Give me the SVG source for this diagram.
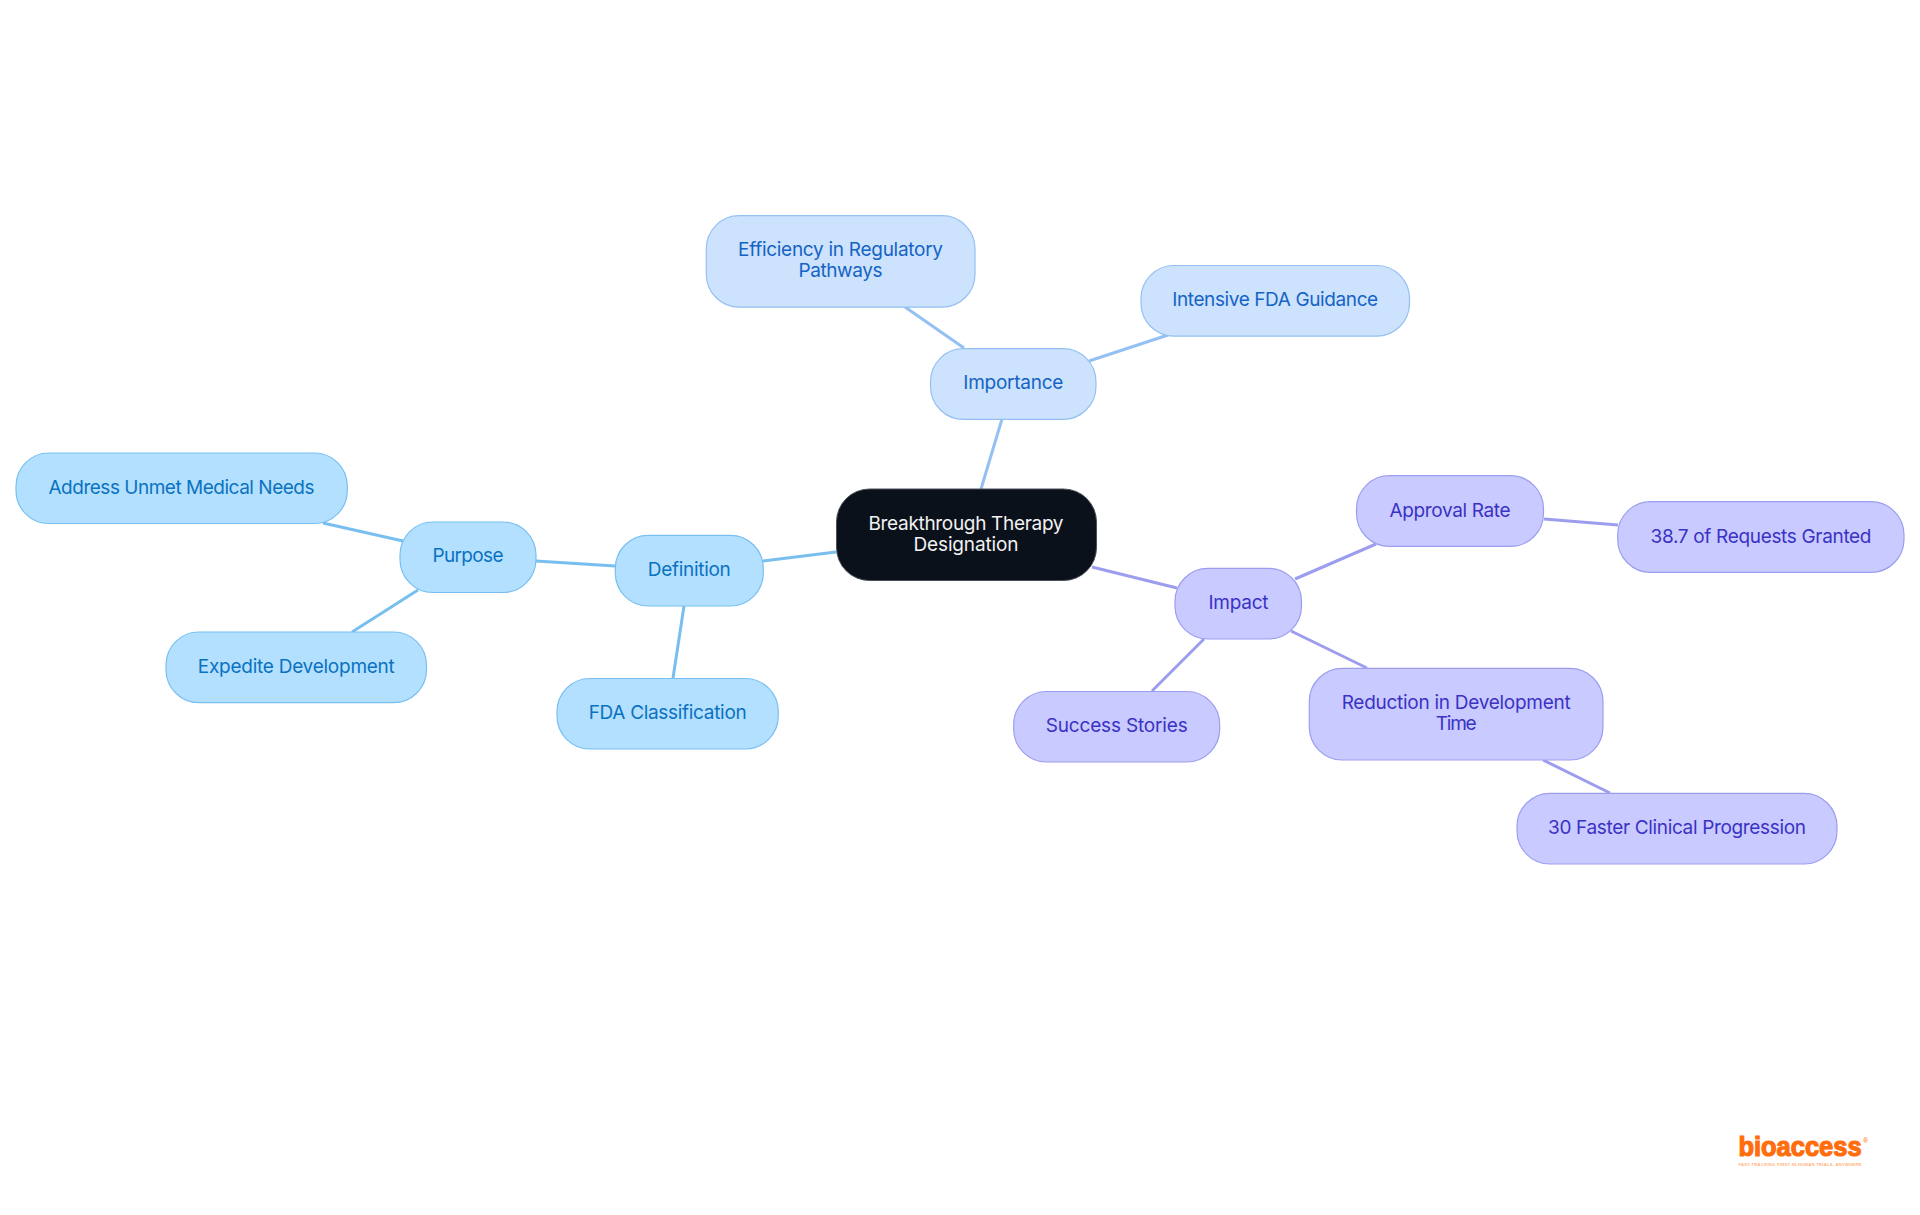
<svg xmlns="http://www.w3.org/2000/svg" width="1920" height="1215" viewBox="0 0 1920 1215">
<style>
text{font-family:"Inter","Noto Sans",sans-serif;font-size:19px;text-anchor:middle}
.l{fill:none;stroke-width:3}
.n{stroke-width:1.2}
.a .n{fill:#b3e0ff;stroke:#78bff0}.a text{fill:#0a72c0}
.b .n{fill:#cce2fd;stroke:#94c0f2}.b text{fill:#1563c4}
.c .n{fill:#c9caff;stroke:#9d9df0}.c text{fill:#3a32c4}
.la{stroke:#78bff0}.lb{stroke:#94c0f2}.lc{stroke:#9d9df0}
.k{font-family:"Liberation Sans",sans-serif;fill:#ff6d0d}
</style>
<rect width="1920" height="1215" fill="#fff"/>
<g id="connectors">
<path class="l la" d="M836 552L763 561M615 566L536 561M403 541L323 523M418 590L352 632M684 606L673 678"/>
<path class="l lb" d="M981 489L1002 419M964 348L905 307M1089 361L1168 335"/>
<path class="l lc" d="M1092 567L1177 588M1295 579L1376 544M1544 519L1618 525M1204 639L1152 691M1291 631L1367 668M1543 760L1610 793"/>
</g>
<g id="center"><rect x="836.500" y="489" width="260" height="91.500" rx="33" fill="#0b111b" stroke="#4a4f58" stroke-width="1"/><text x="966" y="530" fill="#f2f2f2" textLength="195">Breakthrough Therapy</text><text x="966" y="551" fill="#f2f2f2" textLength="105">Designation</text></g>
<g id="definition" class="a"><rect class="n" x="615.300" y="535.300" width="148" height="70.700" rx="33"/><text x="689.300" y="576" textLength="83">Definition</text></g>
<g id="purpose" class="a"><rect class="n" x="400" y="522" width="136" height="70.500" rx="33"/><text x="468" y="562" textLength="71">Purpose</text></g>
<g id="address" class="a"><rect class="n" x="16" y="453" width="331.300" height="70.500" rx="33"/><text x="181.500" y="494" textLength="266">Address Unmet Medical Needs</text></g>
<g id="expedite" class="a"><rect class="n" x="166" y="632" width="260.500" height="70.700" rx="33"/><text x="296.300" y="673" textLength="197">Expedite Development</text></g>
<g id="fda" class="a"><rect class="n" x="557" y="678.500" width="221.300" height="70.500" rx="33"/><text x="667.700" y="719" textLength="158">FDA Classification</text></g>
<g id="importance" class="b"><rect class="n" x="930.500" y="348.700" width="165.500" height="70.700" rx="33"/><text x="1013.300" y="389" textLength="100">Importance</text></g>
<g id="efficiency" class="b"><rect class="n" x="706.300" y="215.700" width="268.700" height="91.500" rx="33"/><text x="840.500" y="256" textLength="205">Efficiency in Regulatory</text><text x="840.500" y="277" textLength="84">Pathways</text></g>
<g id="guidance" class="b"><rect class="n" x="1141" y="265.500" width="268.500" height="70.700" rx="33"/><text x="1275.200" y="306" textLength="206">Intensive FDA Guidance</text></g>
<g id="impact" class="c"><rect class="n" x="1175" y="568.300" width="126.500" height="70.700" rx="33"/><text x="1238.500" y="609" textLength="60">Impact</text></g>
<g id="approval" class="c"><rect class="n" x="1356.500" y="475.700" width="187" height="70.700" rx="33"/><text x="1450" y="517" textLength="121">Approval Rate</text></g>
<g id="granted" class="c"><rect class="n" x="1617.700" y="501.700" width="286.300" height="70.700" rx="33"/><text x="1761" y="543" textLength="221">38.7 of Requests Granted</text></g>
<g id="stories" class="c"><rect class="n" x="1013.700" y="691.500" width="206" height="70.500" rx="33"/><text x="1116.700" y="732" textLength="142">Success Stories</text></g>
<g id="reduction" class="c"><rect class="n" x="1309.300" y="668.300" width="293.700" height="91.700" rx="33"/><text x="1456.200" y="709" textLength="229">Reduction in Development</text><text x="1456.200" y="730" textLength="41">Time</text></g>
<g id="faster" class="c"><rect class="n" x="1517" y="793.300" width="320" height="70.700" rx="33"/><text x="1677" y="834" textLength="258">30 Faster Clinical Progression</text></g>
<g id="logo"><text class="k" transform="translate(1800 1155.500) scale(.91 1)" style="font-weight:700;font-size:28px" stroke="#ff6d0d" stroke-width="1.200">bioaccess</text><text class="k" x="1865.500" y="1143" style="font-size:7px">®</text><text class="k" x="1800" y="1165.500" style="font-size:4.200px;font-weight:700;fill:#ffb27d" textLength="123">FAST-TRACKING FIRST-IN-HUMAN TRIALS, ANYWHERE</text></g>
</svg>
